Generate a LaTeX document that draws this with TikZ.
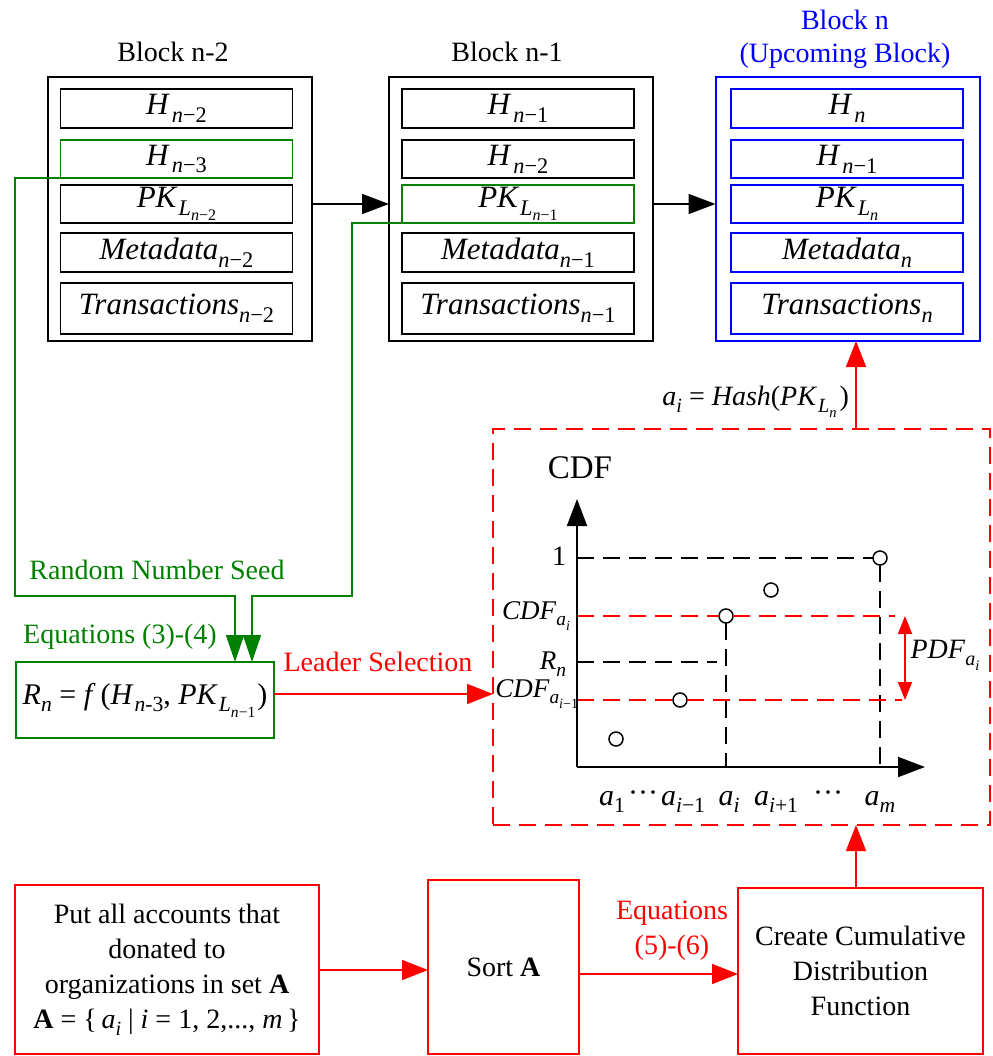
\documentclass[tikz,border=0pt]{standalone}
\usepackage{fontspec}
\setmainfont{Liberation Serif}
\usetikzlibrary{arrows.meta}
\definecolor{dgreen}{RGB}{0,128,0}
\definecolor{pred}{RGB}{255,0,0}
\definecolor{pblue}{RGB}{0,0,255}
% lowered, reduced index for hand-set formulas
\newcommand\subx[1]{\raisebox{-0.55ex}{\scalebox{0.72}{#1}}}
\newcommand\vi[1]{\textit{#1}}

\begin{document}
\begin{tikzpicture}[x=1pt,y=-1pt,
  every node/.style={inner sep=0pt, outer sep=0pt},
  lbl/.style={font=\fontsize{28}{34}\selectfont},
  mth/.style={font=\fontsize{31}{36}\selectfont},
  frame/.style={draw, line width=2pt, minimum width=264pt, minimum height=264pt},
  cell/.style={draw, line width=1.8pt, minimum width=232pt, mth},
  gcell/.style={cell, draw=dgreen, line width=1.5pt},
  bcell/.style={cell, draw=pblue},
  blkarr/.style={line width=1.6pt, -{Triangle[length=27pt,width=20pt]}},
  grnarr/.style={draw=dgreen, line width=1.6pt, -{Triangle[length=27pt,width=18pt]}},
  redarr/.style={draw=pred, line width=1.6pt, -{Triangle[length=26pt,width=20pt]}},
  axis/.style={line width=1.8pt, -{Triangle[length=27pt,width=20pt]}},
  bdash/.style={line width=1.5pt, dash pattern=on 17pt off 9pt},
  rdash/.style={bdash, draw=pred},
  pt/.style={circle, draw, fill=white, line width=1.5pt, minimum size=14pt},
  rbox/.style={draw=pred, line width=1.8pt, lbl, align=center, font=\fontsize{28}{35}\selectfont}
]
\useasboundingbox (0,0) rectangle (992,1056);

% ---------- block n-2 ----------
\node[lbl] (tA) at (173,52) {Block n-2};
\node[frame] (bA) at (180,209) {};
\node[cell, minimum height=39pt] (a1) at (176.5,108.5) {\vi{H}\kern2pt\subx{\vi{n}−2}};
\node[gcell, minimum height=38pt] (a2) at (176.5,159) {\vi{H}\kern2pt\subx{\vi{n}−3}};
\node[cell, minimum height=38pt] (a3) at (176.5,204) {\vi{PK}\kern1pt\subx{\vi{L}\subx{\vi{n}−2}}};
\node[cell, minimum height=39pt] (a4) at (176.5,252.5) {\vi{Metadata}\subx{\vi{n}−2}};
\node[cell, minimum height=51pt] (a5) at (176.5,308.5) {\vi{Transactions}\subx{\vi{n}−2}};

% ---------- block n-1 ----------
\node[lbl] (tB) at (507,52) {Block n-1};
\node[frame] (bB) at (521,209) {};
\node[cell, minimum height=39pt] (b1) at (518,108.5) {\vi{H}\kern2pt\subx{\vi{n}−1}};
\node[cell, minimum height=38pt] (b2) at (518,159) {\vi{H}\kern2pt\subx{\vi{n}−2}};
\node[gcell, minimum height=38pt] (b3) at (518,204) {\vi{PK}\kern1pt\subx{\vi{L}\subx{\vi{n}−1}}};
\node[cell, minimum height=39pt] (b4) at (518,252.5) {\vi{Metadata}\subx{\vi{n}−1}};
\node[cell, minimum height=51pt] (b5) at (518,308.5) {\vi{Transactions}\subx{\vi{n}−1}};

% ---------- block n ----------
\node[lbl, text=pblue, align=center, font=\fontsize{28}{33}\selectfont] (tC) at (845,39) {Block n\\(Upcoming Block)};
\node[frame, draw=pblue] (bC) at (847.5,209) {};
\node[bcell, minimum height=39pt] (c1) at (847,108.5) {\vi{H}\kern2pt\subx{\vi{n}}};
\node[bcell, minimum height=38pt] (c2) at (847,159) {\vi{H}\kern2pt\subx{\vi{n}−1}};
\node[bcell, minimum height=38pt] (c3) at (847,204) {\vi{PK}\kern1pt\subx{\vi{L}\subx{\vi{n}}}};
\node[bcell, minimum height=39pt] (c4) at (847,252.5) {\vi{Metadata}\subx{\vi{n}}};
\node[bcell, minimum height=51pt] (c5) at (847,308.5) {\vi{Transactions}\subx{\vi{n}}};

% chain links
\draw[blkarr] (bA.east |- a3.center) -- (bB.west |- a3.center);
\draw[blkarr] (bB.east |- a3.center) -- (bC.west |- a3.center);

% ---------- seed ----------
\node[draw=dgreen, line width=1.8pt, minimum width=258pt, minimum height=76pt, font=\fontsize{30}{36}\selectfont] (fbox) at (145,700)
  {\vi{R}\subx{\vi{n}} = \vi{f}\,(\vi{H}\kern1pt\subx{\vi{n}-3}, \vi{PK}\kern1pt\subx{\vi{L}\subx{\vi{n}−1}}\kern2pt)};
\node[lbl, text=dgreen] (seed) at (157,570) {Random Number Seed};
\node[lbl, text=dgreen] (eq34) at (120,637) {Equations (3)-(4)};
\coordinate (gL) at (15,596);
\coordinate (gR) at (352,596);
\coordinate (tip1) at (235,0);
\coordinate (tip2) at (252,0);
\draw[grnarr] (a2.south west) -| (gL) -| (fbox.north -| tip1);
\draw[grnarr] (b3.south west) -| (gR) -| (fbox.north -| tip2);

% ---------- CDF panel ----------
\node[draw=pred, line width=1.8pt, dash pattern=on 17pt off 9pt, minimum width=497pt, minimum height=396pt] (cdfbox) at (741.5,627) {};
\coordinate (ls) at (0,694);
\draw[redarr] (fbox.east |- ls) -- (cdfbox.west |- ls);
\node[lbl, text=pred] (lead) at (378,662) {Leader Selection};

\coordinate (upx) at (856,0);
\draw[redarr] (cdfbox.north -| upx) -- (bC.south -| upx);
\node[font=\fontsize{28}{34}\selectfont, anchor=east] (hash) at (849,402)
  {\vi{a}\subx{\vi{i}} = \vi{Hash}(\vi{PK}\kern1pt\subx{\vi{L}\subx{\vi{n}}}\kern3pt)};

\coordinate (O) at (577,767);
\coordinate (ytop) at (577,499);
\coordinate (xend) at (925,767);
\node[font=\fontsize{33}{38}\selectfont] (cdf) at (580,468) {CDF};

% sample points of the distribution
\node[pt] (p1) at (616,739) {};
\node[pt] (p2) at (680,700) {};
\node[pt] (p3) at (726,616) {};
\node[pt] (p4) at (771,590) {};
\node[pt] (p5) at (880,558) {};

% guide lines, kept clear of the circles
\coordinate (lvR) at (717,662);
\coordinate (rA) at (895,616);
\coordinate (rB) at (902,700);
\draw[bdash] (O |- p5) -- (p5.west);
\draw[bdash] (p5.south) -- (p5 |- O);
\draw[bdash] (p3.south) -- (p3 |- O);
\draw[bdash] (O |- lvR) -- (lvR);
\draw[rdash] (O |- rA) -- (p3.west);
\draw[rdash] (p3.east) -- (rA);
\draw[rdash] (O |- rB) -- (p2.west);
\draw[rdash] (p2.east) -- (rB);
\draw[axis] (O) -- (ytop);
\draw[axis] (O) -- (xend);

\coordinate (pdfT) at (905,616);
\coordinate (pdfB) at (905,700);
\draw[draw=pred, line width=1.6pt, {Triangle[length=18pt,width=14pt]}-{Triangle[length=18pt,width=14pt]}] (pdfT) -- (pdfB);
\node[font=\fontsize{28}{34}\selectfont] (pdf) at (945,655) {\vi{PDF}\subx{\vi{a}\subx{\vi{i}}}};

\node[font=\fontsize{28}{34}\selectfont, anchor=east] (l1) at (566,556) {1};
\node[font=\fontsize{27}{34}\selectfont, anchor=east] (lc1) at (570,616) {\vi{CDF}\subx{\vi{a}\subx{\vi{i}}}};
\node[font=\fontsize{27}{34}\selectfont, anchor=east] (lr) at (566,664) {\vi{R}\subx{\vi{n}}};
\node[font=\fontsize{27}{34}\selectfont, anchor=east] (lc0) at (578,694) {\vi{CDF}\subx{\vi{a}\subx{\vi{i}−1}}};

\begin{scope}[every node/.style={font=\fontsize{30}{36}\selectfont, inner sep=0pt}]
\node (x1) at (612,802) {\vi{a}\subx{1}};
\node (xd1) at (643,797) {···};
\node (x2) at (683,802) {\vi{a}\subx{\vi{i}−1}};
\node (x3) at (729,802) {\vi{a}\subx{\vi{i}}};
\node (x4) at (776,802) {\vi{a}\subx{\vi{i}+1}};
\node (xd2) at (828,797) {···};
\node (x5) at (880,802) {\vi{a}\subx{\vi{m}}};
\end{scope}

% ---------- preparation steps ----------
\node[rbox, minimum width=304pt, minimum height=169pt] (s1) at (167,969.5)
  {Put all accounts that\\donated to\\organizations in set \textbf{A}\\\textbf{A} = \{\,\vi{a}\subx{\vi{i}} | \vi{i} = 1, 2,..., \vi{m}\,\}};
\node[rbox, minimum width=151pt, minimum height=174pt] (s2) at (503.5,967) {Sort \textbf{A}};
\node[rbox, minimum width=245pt, minimum height=166pt] (s3) at (860.5,971) {Create Cumulative\\Distribution\\Function};
\coordinate (k1) at (0,970);
\coordinate (k2) at (0,974);
\draw[redarr] (s1.east |- k1) -- (s2.west |- k1);
\draw[redarr] (s2.east |- k2) -- (s3.west |- k2);
\node[rbox, draw=none, text=pred] (eq56) at (672,931) {Equations\\(5)-(6)};
\draw[redarr] (s3.north -| upx) -- (cdfbox.south -| upx);
\end{tikzpicture}
\end{document}
